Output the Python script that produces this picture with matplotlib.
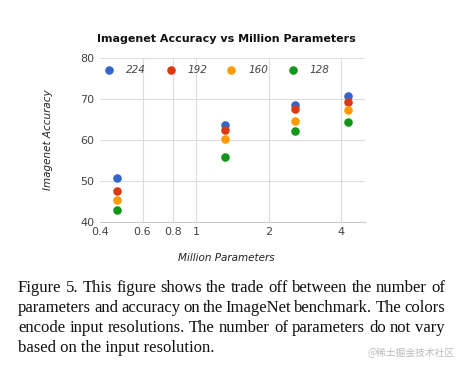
import matplotlib
matplotlib.use("Agg")
import matplotlib.pyplot as plt

# MobileNet width multipliers -> million parameters
params = [0.47, 1.32, 2.57, 4.24]
resolutions = ["224", "192", "160", "128"]
acc_224 = [50.6, 63.7, 68.4, 70.6]
acc_192 = [47.6, 62.4, 67.4, 69.1]
acc_160 = [45.2, 60.2, 64.6, 67.2]
acc_128 = [42.9, 55.8, 62.1, 64.4]
colors = ["#3366cc", "#dc3912", "#ff9900", "#109618"]

caption = [
    "Figure 5. This figure shows the trade off between the number of",
    "parameters and accuracy on the ImageNet benchmark. The colors",
    "encode input resolutions.  The number of parameters do not vary",
    "based on the input resolution.",
]

fig = plt.figure(figsize=(4.66, 3.69), dpi=100)
ax = fig.add_axes([0.2146, 0.399, 0.5684, 0.4446])

for acc, c in zip([acc_224, acc_192, acc_160, acc_128], colors):
    ax.scatter(params, acc, s=38, color=c, zorder=3, linewidths=0)

ax.set_xscale("log")
ax.set_xlim(0.4, 5.0)
ax.set_ylim(40, 80)
ax.set_xticks([0.4, 0.6, 0.8, 1, 2, 4])
ax.set_xticklabels(["0.4", "0.6", "0.8", "1", "2", "4"])
ax.xaxis.set_minor_locator(matplotlib.ticker.NullLocator())
ax.set_yticks([40, 50, 60, 70, 80])
ax.grid(True, color="#dddddd", linewidth=0.8, zorder=0)
ax.get_xgridlines()[0].set_visible(False)
for s in ["top", "right", "left"]:
    ax.spines[s].set_visible(False)
ax.spines["bottom"].set_color("#cccccc")
ax.tick_params(length=0, labelsize=8, colors="#444444", pad=4)

# legend inside the top of the plot
leg_x = [0.436, 0.789, 1.40, 2.51]
for lx, lab, c in zip(leg_x, resolutions, colors):
    ax.scatter([lx], [77], s=38, color=c, zorder=4, linewidths=0, clip_on=False)
    ax.annotate(lab, (lx, 77), xytext=(12, 0), textcoords="offset points",
                fontsize=7.5, style="italic", color="#444444",
                va="center", ha="left")

fig.text(0.485, 0.893, "Imagenet Accuracy vs Million Parameters", fontsize=8,
         fontweight="bold", ha="center", va="center", color="#111111")
fig.text(0.103, 0.622, "Imagenet Accuracy", fontsize=7.5, style="italic",
         rotation=90, ha="center", va="center", color="#222222")
fig.text(0.485, 0.30, "Million Parameters", fontsize=7.5, style="italic",
         ha="center", va="center", color="#222222")

# justified caption
fig.canvas.draw()
r = fig.canvas.get_renderer()
left, right = 18, 445
baselines = [291.5, 311.5, 331.5, 351.5]
fsize = 12

for i, (line, yy) in enumerate(zip(caption, baselines)):
    ypos = 1 - yy / 369
    words = line.split()
    if i == len(caption) - 1:
        fig.text(left / 466, ypos, line, fontsize=fsize, family="Liberation Serif",
                 va="baseline", ha="left", color="#111111")
        continue
    ts = [fig.text(0, ypos, w, fontsize=fsize, family="Liberation Serif",
                   va="baseline", ha="left", color="#111111") for w in words]
    widths = [t.get_window_extent(r).width for t in ts]
    gap = max(2, (right - left - sum(widths)) / (len(words) - 1))
    x = left
    for t, w in zip(ts, widths):
        t.set_x(x / 466)
        x += w + gap

fig.text(0.975, 0.043, "@稀土掘金技术社区", fontsize=7, color="#bbbbbb",
         family=["Noto Sans CJK SC", "DejaVu Sans"], ha="right", va="center")

fig.savefig("out.png", dpi=100)
